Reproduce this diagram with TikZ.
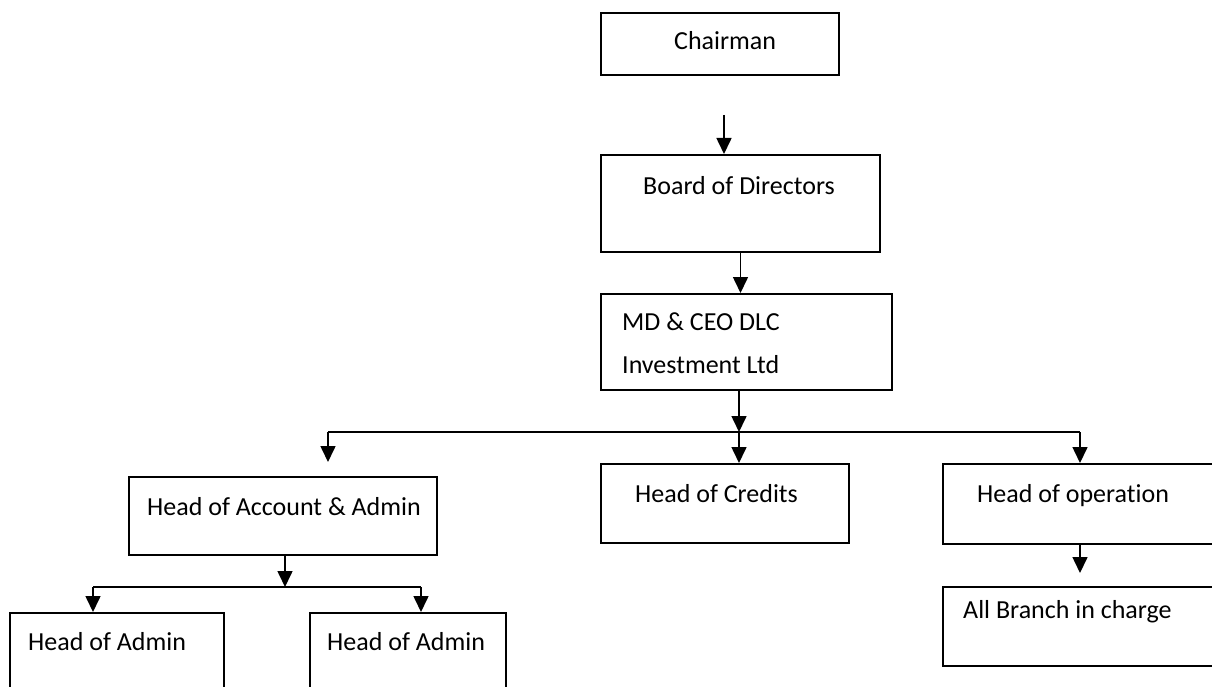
\documentclass[tikz,border=0pt]{standalone}
\usepackage{fontspec}
\setmainfont{Carlito}[RawFeature=-liga]
\usetikzlibrary{arrows.meta}
\begin{document}
\begin{tikzpicture}[x=1pt,y=-1pt,
  orgbox/.style={draw,line width=2pt,anchor=north west,inner sep=0pt},
  orgtext/.style={anchor=base west,inner sep=0pt,align=left,font=\fontsize{26}{43}\selectfont},
  orgarrow/.style={line width=1.6pt,-{Triangle[width=15pt,length=16pt]}}]
\clip (0,0) rectangle (1212,687);
\node[orgbox,minimum width=238pt,minimum height=62pt] (chair) at (600,12) {};
\node[orgbox,minimum width=279pt,minimum height=97pt] (board) at (600,154) {};
\node[orgbox,minimum width=291pt,minimum height=96pt] (md) at (600,293) {};
\node[orgbox,minimum width=308pt,minimum height=78pt] (acct) at (128,476) {};
\node[orgbox,minimum width=248pt,minimum height=79pt] (cred) at (600,463) {};
\node[orgbox,minimum width=300pt,minimum height=80pt] (oper) at (942,463) {};
\node[orgbox,minimum width=300pt,minimum height=79pt] (branch) at (942,586) {};
\node[orgbox,minimum width=214pt,minimum height=100pt] (adma) at (9,612) {};
\node[orgbox,minimum width=196pt,minimum height=100pt] (admb) at (309,612) {};
\node[orgtext] (chairtxt) at (674,50) {Chairman};
\node[orgtext] (boardtxt) at (643,195) {Board of Directors};
\node[orgtext] (mdtxt) at (622,373) {MD \& CEO DLC\\Investment Ltd};
\node[orgtext] (accttxt) at (147,515) {Head of Account \& Admin};
\node[orgtext] (credtxt) at (635,502) {Head of Credits};
\node[orgtext] (opertxt) at (977,502) {Head of operation};
\node[orgtext] (branchtxt) at (963,618) {All Branch in charge};
\node[orgtext] (admatxt) at (28,650) {Head of Admin};
\node[orgtext] (admbtxt) at (327,650) {Head of Admin};
\coordinate (busL) at (328,432);
\coordinate (busM) at (739,432);
\coordinate (busR) at (1080,432);
\coordinate (subL) at (93,587);
\coordinate (subM) at (285,587);
\coordinate (subR) at (421,587);
\draw[orgarrow] ([xshift=4pt,yshift=-39pt]chair.south) -- ([xshift=4pt]chair.south |- board.north);
\draw[orgarrow] (board.south) -- (board.south |- md.north);
\draw[orgarrow] (busM |- md.south) -- (busM);
\draw[line width=1.6pt] (busL) -- (busR);
\draw[orgarrow,shorten >=14pt] (busL) -- (busL |- acct.north);
\draw[orgarrow] (busM) -- (busM |- cred.north);
\draw[orgarrow] (busR) -- (busR |- oper.north);
\draw[orgarrow,shorten >=13pt] (busR |- oper.south) -- (busR |- branch.north);
\draw[orgarrow] (subM |- acct.south) -- (subM);
\draw[line width=1.6pt] (subL) -- (subR);
\draw[orgarrow] (subL) -- (subL |- adma.north);
\draw[orgarrow] (subR) -- (subR |- admb.north);
\end{tikzpicture}
\end{document}
